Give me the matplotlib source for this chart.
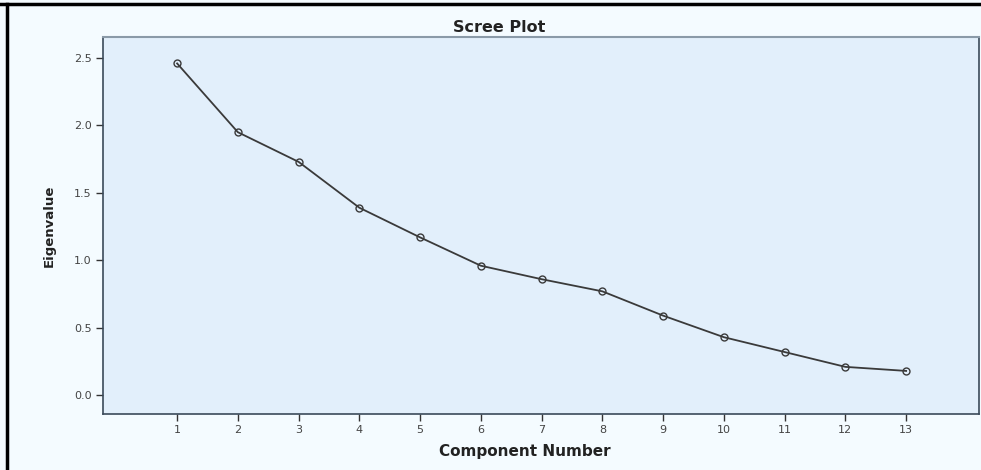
import matplotlib
matplotlib.use("Agg")
import matplotlib.pyplot as plt
from matplotlib.lines import Line2D

# Scree plot data
components = list(range(1, 14))
eigenvalues = [2.46, 1.95, 1.73, 1.39, 1.17, 0.96, 0.86, 0.77, 0.59, 0.43, 0.32, 0.21, 0.18]
y_ticks = [0.0, 0.5, 1.0, 1.5, 2.0, 2.5]

fig = plt.figure(figsize=(9.81, 4.70), dpi=100, facecolor="#f4fbff")
ax = fig.add_axes([0.105, 0.119, 0.893, 0.802])
ax.set_facecolor("#e2effb")

ax.plot(components, eigenvalues, color="#3a3a3a", linewidth=1.3,
        marker="o", markersize=5, markerfacecolor="none",
        markeredgecolor="#3a3a3a", markeredgewidth=1.0)

ax.set_xlim(-0.22, 14.2)
ax.set_ylim(-0.14, 2.655)
ax.set_xticks(components)
ax.set_yticks(y_ticks)
ax.set_yticklabels([f"{v:.1f}" for v in y_ticks])
ax.tick_params(direction="out", length=5, width=1, color="#333333",
               labelsize=8, labelcolor="#444444", pad=3)

for side in ("left", "bottom", "right"):
    ax.spines[side].set_color("#3a4a5a")
    ax.spines[side].set_linewidth(1.2)
ax.spines["top"].set_color("#8a9aa8")
ax.spines["top"].set_linewidth(1.5)

fig.text(0.509, 0.942, "Scree Plot", fontsize=11.5, fontweight="bold",
         color="#222222", ha="center", va="center")
ax.set_xlabel("Component Number", fontsize=11, fontweight="bold",
              color="#222222")
ax.xaxis.set_label_coords(0.482, -0.08)
ax.set_ylabel("Eigenvalue", fontsize=9.5, fontweight="bold", color="#222222",
              labelpad=13)

# black frame lines along the top and left edges
fig.add_artist(Line2D([0.0, 1.0], [0.991, 0.991], color="black", linewidth=2.5,
                      transform=fig.transFigure))
fig.add_artist(Line2D([0.007, 0.007], [0.0, 0.991], color="black", linewidth=2.5,
                      transform=fig.transFigure))

fig.savefig("out.png", dpi=100, facecolor=fig.get_facecolor())
